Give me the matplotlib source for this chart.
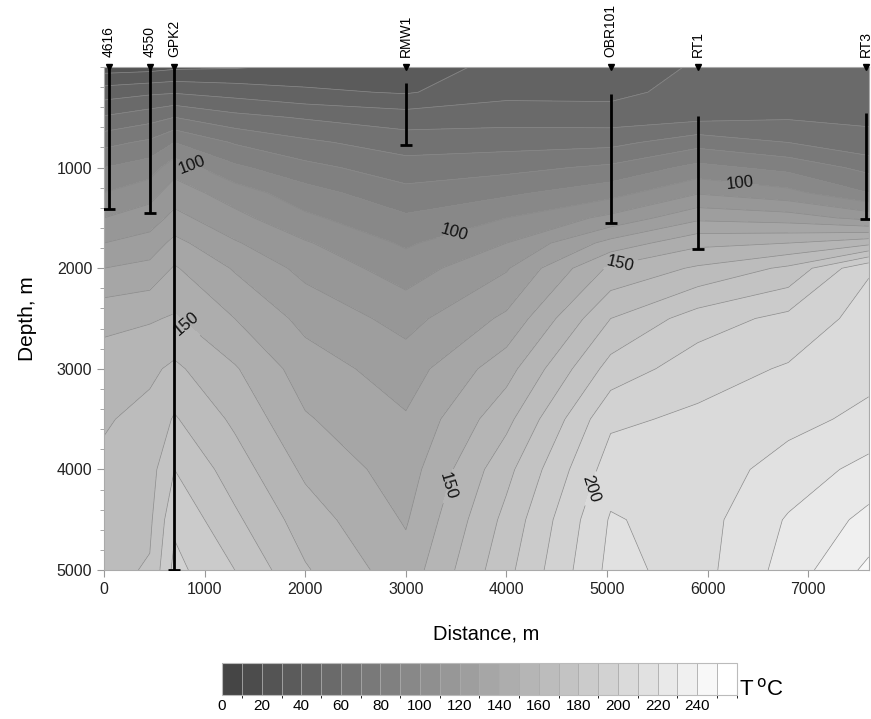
import numpy as np
import matplotlib
matplotlib.use("Agg")
import matplotlib.pyplot as plt
from matplotlib.colors import ListedColormap, BoundaryNorm
from matplotlib.transforms import blended_transform_factory

plt.rcParams['font.family'] = ['Liberation Sans', 'DejaVu Sans']

# grid nodes (distance along profile, depth)
dist_nodes = [0, 455, 700, 1300, 2000, 3000, 4000, 5035, 5900, 6800, 7600]
depth_nodes = [0, 250, 500, 750, 1000, 1250, 1500, 1750, 2000, 2500, 3000, 3500, 4000, 4500, 5000]

# temperature (deg C) down each column, estimated from the isotherms
t_0 = [25, 45, 61, 77, 90, 100, 110, 120, 130, 147, 155, 159, 162, 165, 167]
t_455 = [26, 48, 66, 82, 95, 106, 115, 124, 133, 149, 158, 163, 166, 168, 171]
t_700 = [28, 49, 70, 90, 106, 115, 123, 133, 141, 151, 162, 171, 180, 188, 193]
t_1300 = [29, 46, 63, 79, 92, 105, 113, 121, 129, 140, 151, 158, 165, 172, 180]
t_2000 = [32, 42, 59, 72, 83, 94, 102, 111, 117, 127, 135, 141, 148, 155, 161]
t_3000 = [35, 39, 55, 65, 74.5, 83, 91.5, 98.5, 105, 116.5, 125, 131, 135, 139, 144]
t_4000 = [43, 47, 56, 66, 77, 88, 100, 110, 119, 132, 146, 157, 167, 173, 177]
t_5035 = [45, 47, 55, 67, 82, 96, 112.5, 133.5, 152, 170, 184, 198, 205, 211, 213]
t_5900 = [51, 54, 57, 76, 93, 109, 127.7, 147.5, 161.4, 184.8, 195.6, 202, 204.5, 205.5, 206]
t_6800 = [55, 56, 59, 70, 87, 103, 125, 150, 172, 193, 201, 207, 214, 221, 224]
t_7600 = [55, 57, 58.5, 62.5, 77, 90, 116.7, 157, 199, 204, 207, 212.4, 223.4, 232.9, 242.5]

# wells
well_names = ['4616', '4550', 'GPK2', 'RMW1', 'OBR101', 'RT1', 'RT3']
well_x = [50, 455, 700, 3000, 5035, 5900, 7570]
well_top = [0, 0, 0, 160, 270, 490, 460]
well_bottom = [1410, 1450, 5000, 775, 1550, 1810, 1510]

# isotherm labels
label_levels = [100, 150, 200]
label_spots = [(900, 900), (3470, 1620), (6320, 1140), (880, 2480),
               (5125, 1935), (3440, 4170), (4780, 4170)]

temps = np.column_stack([t_0, t_455, t_700, t_1300, t_2000, t_3000, t_4000,
                         t_5035, t_5900, t_6800, t_7600])
X, Z = np.meshgrid(dist_nodes, depth_nodes)

levels = np.arange(0, 270, 10)
grays = np.linspace(0.27, 1.0, len(levels) - 1)
cmap = ListedColormap([(g, g, g) for g in grays])
norm = BoundaryNorm(levels, cmap.N)

fig = plt.figure(figsize=(8.71, 7.19), dpi=100)
ax = fig.add_axes([0.1194, 0.2072, 0.878, 0.6996])

cf = ax.contourf(X, Z, temps, levels=levels, cmap=cmap, norm=norm)
plain = [l for l in levels if l not in label_levels]
ax.contour(X, Z, temps, levels=plain, colors='#8a8a8a', linewidths=0.5)
cl = ax.contour(X, Z, temps, levels=label_levels, colors='#8a8a8a',
                linewidths=0.5)
ax.clabel(cl, manual=label_spots, fmt='%d', fontsize=12, inline=True,
          inline_spacing=4, colors='#111111')

ax.vlines(well_x, well_top, well_bottom, color='black', lw=2, zorder=5)
ax.plot(well_x, well_bottom, ls='none', marker='_', ms=9, mew=2,
        color='black', zorder=5)

trans = blended_transform_factory(ax.transData, ax.transAxes)
for name, x in zip(well_names, well_x):
    ax.plot([x], [1.0], marker='v', ms=5, color='black', transform=trans,
            clip_on=False, zorder=6)
    ax.annotate(name, xy=(x, 1.0), xycoords=trans, xytext=(0, 7),
                textcoords='offset points', rotation=90, ha='center',
                va='bottom', fontsize=10)

ax.set_xlim(0, 7600)
ax.set_ylim(5000, 0)
ax.set_xticks(np.arange(0, 7001, 1000))
ax.set_yticks(np.arange(1000, 5001, 1000))
ax.set_yticks(np.arange(0, 5001, 200), minor=True)
ax.tick_params(which='both', direction='out', color='#999999', labelsize=11.5,
               labelcolor='#222222')
ax.tick_params(which='major', length=5)
ax.tick_params(which='minor', length=3)
for s in ax.spines.values():
    s.set_color('#aaaaaa')
    s.set_linewidth(0.8)

ax.set_xlabel('Distance, m', fontsize=14.5, labelpad=20)
ax.set_ylabel('Depth, m', fontsize=15, labelpad=14)

cax = fig.add_axes([0.255, 0.0334, 0.591, 0.0445])
cb = fig.colorbar(cf, cax=cax, orientation='horizontal', drawedges=True,
                  ticks=np.arange(0, 241, 20))
cb.outline.set_edgecolor('#bbbbbb')
cb.outline.set_linewidth(0.8)
cb.dividers.set_color('#aaaaaa')
cb.dividers.set_linewidth(0.6)
cb.ax.tick_params(length=0, labelsize=11, pad=3)
fig.text(0.849, 0.026, r'T$\,^{\mathrm{o}}$C', fontsize=16, va='bottom')

fig.savefig('out.png', dpi=100)
